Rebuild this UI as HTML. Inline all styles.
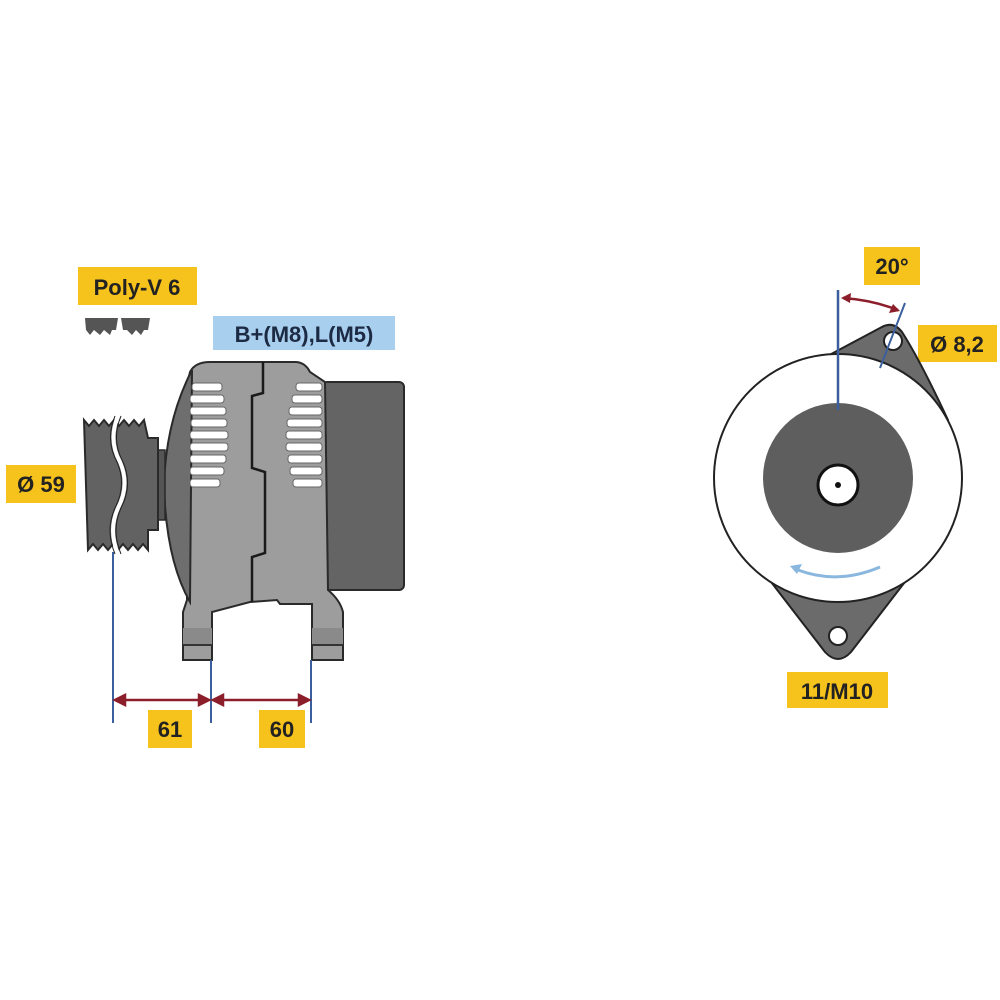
<!DOCTYPE html>
<html><head><meta charset="utf-8"><style>
html,body{margin:0;padding:0;background:#fff;}
svg{display:block;}
text{font-family:"Liberation Sans",sans-serif;font-weight:bold;}
</style></head><body>
<svg width="1000" height="1000" viewBox="0 0 1000 1000" xmlns="http://www.w3.org/2000/svg">
<rect width="1000" height="1000" fill="#fff"/>
<!-- labels -->
<rect x="78" y="267" width="119" height="38" fill="#f6c21c"/>
<text x="137" y="295" font-size="22" text-anchor="middle" fill="#222">Poly-V 6</text>
<rect x="213" y="316" width="182" height="34" fill="#a9cfee"/>
<text x="304" y="342" font-size="22" text-anchor="middle" fill="#1c2a44">B+(M8),L(M5)</text>
<rect x="6" y="465" width="70" height="38" fill="#f6c21c"/>
<text x="41" y="492" font-size="22" text-anchor="middle" fill="#222">Ø 59</text>
<rect x="148" y="710" width="44" height="38" fill="#f6c21c"/>
<text x="170" y="737" font-size="22" text-anchor="middle" fill="#222">61</text>
<rect x="259" y="710" width="46" height="38" fill="#f6c21c"/>
<text x="282" y="737" font-size="22" text-anchor="middle" fill="#222">60</text>
<rect x="864" y="247" width="56" height="38" fill="#f6c21c"/>
<text x="892" y="274" font-size="22" text-anchor="middle" fill="#222">20°</text>
<rect x="918" y="325" width="79" height="37" fill="#f6c21c"/>
<text x="957" y="352" font-size="22" text-anchor="middle" fill="#222">Ø 8,2</text>
<rect x="787" y="672" width="101" height="36" fill="#f6c21c"/>
<text x="837" y="699" font-size="22" text-anchor="middle" fill="#222">11/M10</text>

<!-- belt profile icon -->
<path d="M85 318 L118 318 L116 330 L112 330 L110 335 L104 330 L100 335 L94 330 L90 335 L86 330 Z" fill="#555"/>
<path d="M121 318 L150 318 L148 330 L144 330 L141 335 L136 330 L132 335 L127 330 L123 330 Z" fill="#555"/>

<!-- side view: back cover -->
<rect x="322" y="382" width="82" height="208" rx="5" fill="#646464" stroke="#2a2a2a" stroke-width="2"/>
<!-- body -->
<path d="M190 372 Q195 362 210 362 L295 362 Q305 362 310 372 L325 382 L328 590 Q340 600 343 612 L343 660 L312 660 L312 604 L280 604 L277 600 L250 602 L212 612 L212 660 L183 660 L183 612 L187 600 L187 385 Z" fill="#9d9d9d" stroke="#2a2a2a" stroke-width="2"/>
<!-- front rounded edge -->
<path d="M192 370 Q166 420 164 485 Q166 560 190 602 L192 370 Z" fill="#6e6e6e" stroke="#2a2a2a" stroke-width="2"/>
<!-- parting line -->
<path d="M263 362 L263 393 L252 396 L252 468 L265 472 L265 553 L252 557 L252 602" fill="none" stroke="#1a1a1a" stroke-width="2.5"/>
<!-- foot bands -->
<rect x="183" y="628" width="29" height="16" fill="#8a8a8a"/>
<rect x="312" y="628" width="31" height="16" fill="#8a8a8a"/>
<line x1="183" y1="645" x2="212" y2="645" stroke="#333" stroke-width="2"/>
<line x1="312" y1="645" x2="343" y2="645" stroke="#333" stroke-width="2"/>
<!-- slots -->
<g fill="#fff" stroke="#666" stroke-width="1">
<rect x="192" y="383" width="30" height="8" rx="3"/>
<rect x="190" y="395" width="34" height="8" rx="3"/>
<rect x="190" y="407" width="36" height="8" rx="3"/>
<rect x="191" y="419" width="36" height="8" rx="3"/>
<rect x="190" y="431" width="38" height="8" rx="3"/>
<rect x="190" y="443" width="38" height="8" rx="3"/>
<rect x="190" y="455" width="36" height="8" rx="3"/>
<rect x="190" y="467" width="34" height="8" rx="3"/>
<rect x="190" y="479" width="30" height="8" rx="3"/>
<rect x="296" y="383" width="26" height="8" rx="3"/>
<rect x="292" y="395" width="30" height="8" rx="3"/>
<rect x="289" y="407" width="33" height="8" rx="3"/>
<rect x="287" y="419" width="35" height="8" rx="3"/>
<rect x="286" y="431" width="36" height="8" rx="3"/>
<rect x="286" y="443" width="36" height="8" rx="3"/>
<rect x="288" y="455" width="34" height="8" rx="3"/>
<rect x="290" y="467" width="32" height="8" rx="3"/>
<rect x="293" y="479" width="29" height="8" rx="3"/>
</g>
<!-- hub -->
<rect x="156" y="450" width="9" height="70" fill="#555" stroke="#2a2a2a" stroke-width="1.5"/>
<!-- pulley -->
<path d="M84 420 l5 6 l5 -6 l5 6 l5 -6 l5 6 l5 -6 l5 6 l5 -6 l5 6 l5 -6 l5 6 l5 -6 L148 438 L158 438 L158 530 L148 530 L148 550 l-5 -6 l-5 6 l-5 -6 l-5 6 l-5 -6 l-5 6 l-5 -6 l-5 6 l-5 -6 l-5 6 l-5 -6 l-5 6 Z" fill="#626262" stroke="#2a2a2a" stroke-width="2"/>
<path d="M118 416 Q108 440 120 462 Q130 485 118 508 Q108 530 118 554" fill="none" stroke="#fff" stroke-width="4"/>
<path d="M118 416 Q108 440 120 462 Q130 485 118 508 Q108 530 118 554" fill="none" stroke="#222" stroke-width="1" transform="translate(-3,0)"/>
<path d="M118 416 Q108 440 120 462 Q130 485 118 508 Q108 530 118 554" fill="none" stroke="#222" stroke-width="1" transform="translate(3,0)"/>

<!-- dimension lines -->
<g stroke="#3b5f9c" stroke-width="2">
<line x1="113" y1="552" x2="113" y2="723"/>
<line x1="211" y1="660" x2="211" y2="723"/>
<line x1="311" y1="660" x2="311" y2="723"/>
</g>
<g stroke="#8b1e2a" stroke-width="2.5" fill="#8b1e2a">
<line x1="116" y1="700" x2="208" y2="700"/>
<line x1="214" y1="700" x2="308" y2="700"/>
<path d="M115 700 l10 -5 l0 10 Z"/>
<path d="M209 700 l-10 -5 l0 10 Z"/>
<path d="M213 700 l10 -5 l0 10 Z"/>
<path d="M309 700 l-10 -5 l0 10 Z"/>
</g>

<!-- front view -->
<path d="M805 368 L880 328 Q893 320 902 332 Q920 360 948 420 L945 440 Z" fill="#6b6b6b" stroke="#222" stroke-width="2"/>
<path d="M768 578 L825 652 Q838 666 851 652 L908 578 Z" fill="#6b6b6b" stroke="#222" stroke-width="2"/>
<circle cx="838" cy="478" r="124" fill="#fff" stroke="#222" stroke-width="2"/>
<circle cx="838" cy="478" r="75" fill="#5e5e5e"/>
<circle cx="838" cy="485" r="20" fill="#fff" stroke="#111" stroke-width="3"/>
<circle cx="838" cy="485" r="3" fill="#111"/>
<circle cx="893" cy="341" r="9" fill="#fff" stroke="#222" stroke-width="2"/>
<circle cx="838" cy="636" r="9" fill="#fff" stroke="#222" stroke-width="2"/>
<line x1="838" y1="290" x2="838" y2="410" stroke="#3b5f9c" stroke-width="2.5"/>
<line x1="905" y1="303" x2="880" y2="368" stroke="#3b5f9c" stroke-width="2"/>
<path d="M843 298 Q872 300 898 310" fill="none" stroke="#8b1e2a" stroke-width="2.5"/>
<path d="M841 298 l10 -5 l-1 10 Z" fill="#8b1e2a"/>
<path d="M900 311 l-11 2 l4 -9 Z" fill="#8b1e2a"/>
<path d="M880 567 Q838 585 798 570" fill="none" stroke="#8ab7de" stroke-width="3"/>
<path d="M790 566 l12 -2 l-5 10 Z" fill="#8ab7de"/>
</svg>
</body></html>
